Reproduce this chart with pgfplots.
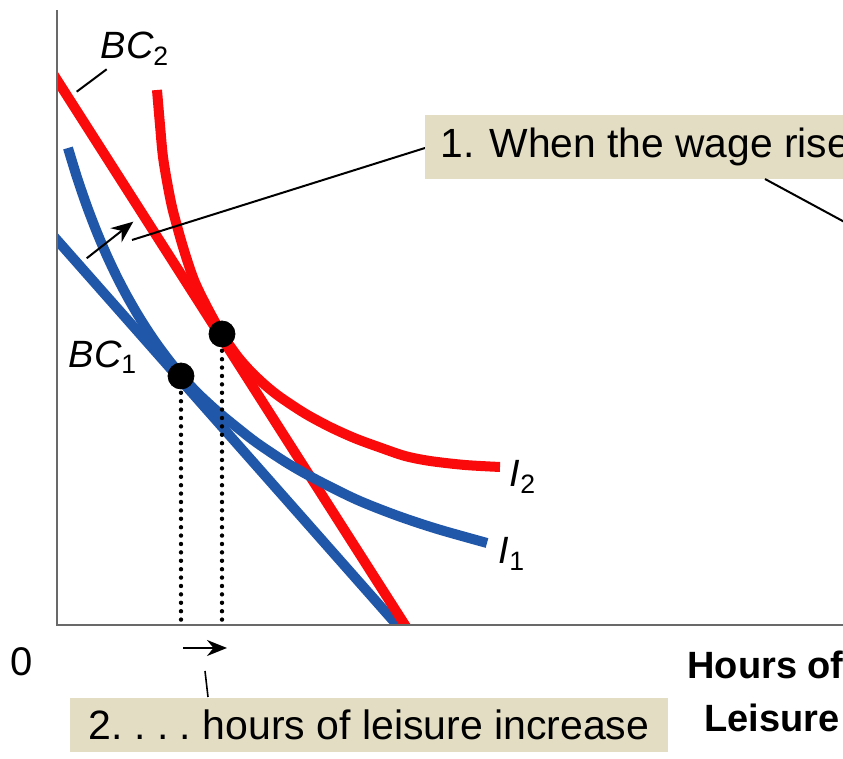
\documentclass[border=0pt]{standalone}
\usepackage{fontspec}
\setmainfont{Liberation Sans}
\usepackage{pgfplots}
\pgfplotsset{compat=1.18}
\usetikzlibrary{arrows.meta}
\definecolor{bcred}{RGB}{250,10,10}
\definecolor{bcblue}{RGB}{33,87,168}
\definecolor{boxbeige}{RGB}{227,221,196}
\definecolor{axgray}{RGB}{105,105,105}
\newcommand\fs[1]{\fontsize{#1}{#1}\selectfont}
\begin{document}
\begin{tikzpicture}
\useasboundingbox (0,0) rectangle (421.5pt,379.5pt);
\clip (0,0) rectangle (421.5pt,379.5pt);
\begin{axis}[
  at={(28.5pt,67pt)}, anchor=south west,
  x=0.5pt, y=0.5pt,
  xmin=0, xmax=786, ymin=0, ymax=615,
  hide axis, clip mode=individual,
]
% budget constraints
\addplot[bcblue, line width=5pt] coordinates {(-10,396.3) (350,-11.3)};
\addplot[bcred, line width=5pt] coordinates {(-10,560.7) (355,-11)};
% indifference curves
\addplot[bcblue, line width=5pt, smooth] coordinates {
 (11,477) (20,447.6) (30,418.5) (40,392.5) (50,369.1) (60,348) (70,328.9)
 (80,311.5) (90,295.5) (100,280.8) (112,264.7) (124,250) (140,232.5)
 (160,214) (180,197.5) (200,182) (230,162) (260,145) (300,125.2)
 (340,109.4) (380,96.1) (430,82)};
\addplot[bcred, line width=5pt, smooth] coordinates {
 (100,535) (103,500) (106,468) (111,438) (116,414) (126,378) (137,345)
 (150,318) (165,291) (180,269.3) (193,254.3) (208,240) (223,228)
 (248,211.5) (273,198) (298,186.7) (323,177.5) (348,169) (373,164)
 (408,160) (443,158)};
% dotted drop lines
\addplot[black, line width=2.2pt, line cap=round, dash pattern=on 0pt off 4.2pt] coordinates {(124,249) (124,0)};
\addplot[black, line width=2.2pt, line cap=round, dash pattern=on 0pt off 4.2pt] coordinates {(165,291) (165,0)};
% optimum points
\addplot[only marks, mark=*, mark size=6.5pt, black] coordinates {(124,249) (165,291)};
% axes
\draw[axgray, line width=1.3pt] (axis cs:0,615) -- (axis cs:0,0) -- (axis cs:800,0);
% labels
\draw[black, line width=1pt] (axis cs:19.7,533.3) -- (axis cs:49.7,555.7);
\node[font=\fs{19}] at (axis cs:78,576) {\itshape BC\textsubscript{\upshape 2}};
\node[font=\fs{19}] at (axis cs:46,268) {\itshape BC\textsubscript{\upshape 1}};
\node[font=\fs{19}] at (axis cs:466,148) {\itshape I\textsubscript{\upshape 2}};
\node[font=\fs{19}] at (axis cs:455,71) {\itshape I\textsubscript{\upshape 1}};
% annotation 1
\draw[black, line width=1pt, -{Stealth[length=11pt,width=9pt]}] (axis cs:29.7,366.7) -- (axis cs:76.3,403.3);
\draw[black, line width=1pt] (axis cs:75,385) -- (axis cs:368,477);
\node[fill=boxbeige, anchor=west, minimum height=32pt, inner xsep=7.5pt, inner ysep=0pt, font=\fs{20.4}] at (axis cs:368,478) {1. When the wage rises . . .};
\draw[black, line width=1pt] (axis cs:708,446) -- (axis cs:830,380);
% annotation 2
\draw[black, line width=1pt, -{Stealth[length=10pt,width=8pt]}] (axis cs:126,-23) -- (axis cs:170,-23);
\draw[black, line width=0.8pt] (axis cs:148,-46) -- (axis cs:151,-72);
\node[fill=boxbeige, minimum width=299pt, minimum height=27pt, inner sep=0pt, font=\fs{20.5}] at (axis cs:312,-100) {2.\ .\ .\ .\ hours of leisure increase};
% axis labels
\node[font=\fs{20}] at (axis cs:-35,-37) {0};
\node[font=\bfseries\fs{19}, anchor=east, inner sep=0pt] at (axis cs:787,-40) {Hours of};
\node[font=\bfseries\fs{19}, inner sep=0pt] at (axis cs:715,-93) {Leisure};
\end{axis}
\end{tikzpicture}
\end{document}
